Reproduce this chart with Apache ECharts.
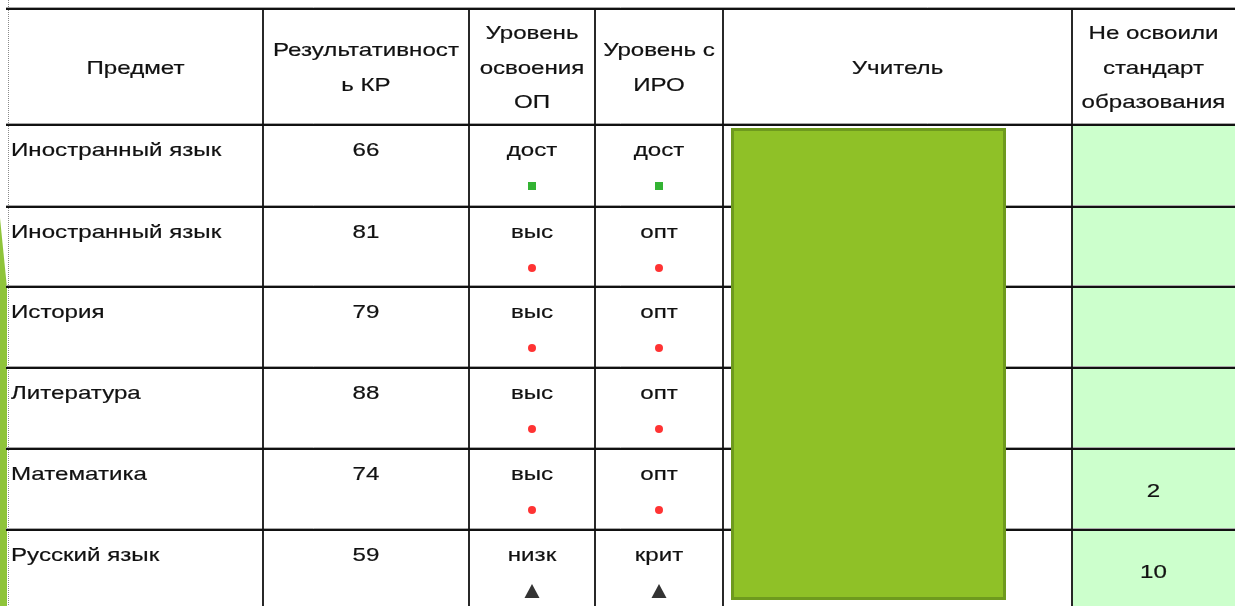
<!DOCTYPE html>
<html>
<head>
<meta charset="utf-8">
<script src="https://cdn.jsdelivr.net/npm/echarts@6/dist/echarts.min.js"></script>
<style>html,body{margin:0;padding:0;background:#fff}#c{width:1235px;height:606px}</style>
</head>
<body>
<div id="c"></div>
<script>
// ---- data ----
const headers = ['Предмет', 'Результативност\nь КР', 'Уровень\nосвоения\nОП', 'Уровень с\nИРО', 'Учитель', 'Не освоили\nстандарт\nобразования'];
const subjects = ['Иностранный язык', 'Иностранный язык', 'История', 'Литература', 'Математика', 'Русский язык'];
const results = [66, 81, 79, 88, 74, 59];
const levelOP = ['дост', 'выс', 'выс', 'выс', 'выс', 'низк'];
const levelIRO = ['дост', 'опт', 'опт', 'опт', 'опт', 'крит'];
const notMastered = [null, null, null, null, 2, 10];

// ---- layout (not data) ----
const W = 1235, H = 606;
const colEdges = [8, 263, 469, 595, 723, 1072, 1235];
const rowEdges = [9, 125, 207, 287, 368, 449, 530, 611];
const SX = 1.27;
const FONT = '"Liberation Sans", Arial, sans-serif';
const FS = 19;
const TXT = '#111111';
const markerStyle = {
  'дост': { symbol: 'rect', size: 8, color: '#00a000' },
  'выс':  { symbol: 'circle', size: 8, color: '#ff0000' },
  'опт':  { symbol: 'circle', size: 8, color: '#ff0000' },
  'низк': { symbol: 'triangle', size: [15, 14], color: '#000000' },
  'крит': { symbol: 'triangle', size: [15, 14], color: '#000000' }
};
const colCenter = c => (colEdges[c] + colEdges[c + 1]) / 2;

function txt(api, x, y, s, align) {
  const p = api.coord([x, y]);
  return {
    type: 'text', x: p[0], y: p[1], scaleX: SX, silent: true,
    style: { text: s, fill: TXT, stroke: TXT, lineWidth: 0.2, fontSize: FS, fontFamily: FONT,
      align: align || 'center', verticalAlign: 'middle', lineHeight: 34.5 }
  };
}
function line(api, x1, y1, x2, y2, stroke, lw, dash) {
  const a = api.coord([x1, y1]), b = api.coord([x2, y2]);
  return { type: 'line', silent: true, shape: { x1: a[0], y1: a[1], x2: b[0], y2: b[1] },
    style: { stroke: stroke, lineWidth: lw, lineDash: dash || null } };
}
function rect(api, x1, y1, x2, y2, style) {
  const a = api.coord([x1, y1]), b = api.coord([x2, y2]);
  return { type: 'rect', silent: true, shape: { x: a[0], y: a[1], width: b[0] - a[0], height: b[1] - a[1] }, style: style };
}

function renderFrame(params, api) {
  const ch = [];
  // light green column background
  ch.push(rect(api, colEdges[5], rowEdges[1], W, H, { fill: '#ccffcc' }));
  // left decoration
  const pts = [[0, 218], [7, 288], [7, H], [0, H]].map(p => api.coord(p));
  ch.push({ type: 'polygon', silent: true, shape: { points: pts }, style: { fill: '#8fc43a' } });
  // left dotted border
  ch.push(line(api, 8.5, 0, 8.5, H, '#8a8a8a', 1, [1, 1]));
  // horizontal lines
  rowEdges.slice(0, 7).forEach(y => {
    ch.push(line(api, 6, y - 1.5, W, y - 1.5, '#a8a8a8', 1));
    ch.push(line(api, 6, y, W, y, '#111', 1.8));
  });
  // vertical lines
  colEdges.slice(1, 6).forEach(x => {
    ch.push(line(api, x, rowEdges[0], x, H, '#111', 1.8));
  });
  // headers
  headers.forEach((h, c) => {
    ch.push(txt(api, colCenter(c), (rowEdges[0] + rowEdges[1]) / 2 + 1.5, h, 'center'));
  });
  // redaction box over teacher column
  ch.push(rect(api, 732.5, 129.5, 1004.5, 598.5, { fill: '#8fc127', stroke: '#6e9a1e', lineWidth: 3 }));
  return { type: 'group', children: ch };
}

function renderRow(params, api) {
  const i = params.dataIndex;
  const top = rowEdges[i + 1];
  const ty = top + 26;
  const ch = [];
  ch.push(txt(api, colEdges[0] + 3, ty, subjects[i], 'left'));
  ch.push(txt(api, colCenter(1), ty, String(results[i]), 'center'));
  ch.push(txt(api, colCenter(2), ty, levelOP[i], 'center'));
  ch.push(txt(api, colCenter(3), ty, levelIRO[i], 'center'));
  if (notMastered[i] != null) {
    ch.push(txt(api, colCenter(5), (top + rowEdges[i + 2]) / 2 + 2, String(notMastered[i]), 'center'));
  }
  return { type: 'group', children: ch };
}

const markers = [];
subjects.forEach((s, i) => {
  const y = rowEdges[i + 1] + 61;
  [[2, levelOP[i]], [3, levelIRO[i]]].forEach(([c, lv]) => {
    const m = markerStyle[lv];
    markers.push({ value: [colCenter(c), y], symbol: m.symbol, symbolSize: m.size, itemStyle: { color: m.color } });
  });
});

const chart = echarts.init(document.getElementById('c'), null, { renderer: 'canvas' });
chart.setOption({
  animation: false,
  backgroundColor: '#ffffff',
  grid: { left: 0, right: 0, top: 0, bottom: 0 },
  xAxis: { type: 'value', min: 0, max: W, show: false },
  yAxis: { type: 'value', min: 0, max: H, inverse: true, show: false },
  tooltip: { show: false },
  series: [
    { type: 'custom', z: 1, renderItem: renderFrame, data: [[0, 0]], silent: true },
    { type: 'custom', z: 2, renderItem: renderRow, data: subjects.map((s, i) => [0, i]), silent: true },
    { type: 'scatter', z: 3, data: markers, silent: true }
  ]
});
</script>
</body>
</html>
